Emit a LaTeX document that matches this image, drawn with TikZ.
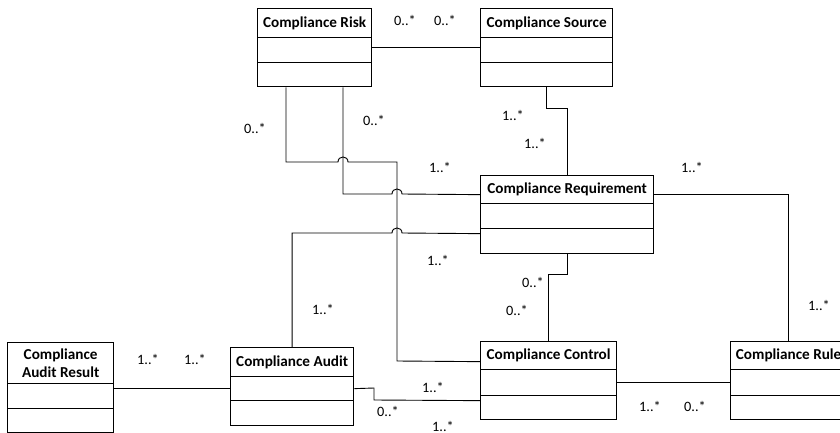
\documentclass[tikz,border=0pt]{standalone}
\usepackage{fontspec}
\setmainfont{Carlito}

% A UML class: header with the name, two empty compartments below.
% #1 name, #2 left x, #3 right x, #4 top y, #5 header bottom, #6 row bottom, #7 box bottom, #8 title
\newcommand\umlclass[8]{%
  \node[hdr, anchor=north west, minimum width={(#3-#2)*1pt}, minimum height={(#5-#4)*1pt}] (#1) at (#2,#4) {#8};
  \node[row, anchor=north west, minimum width={(#3-#2)*1pt}, minimum height={(#6-#5)*1pt}] (#1-1) at (#2,#5) {};
  \node[row, anchor=north west, minimum width={(#3-#2)*1pt}, minimum height={(#7-#6)*1pt}] (#1-2) at (#2,#6) {};
}

\begin{document}
\begin{tikzpicture}[x=1pt,y=-1pt,
  hdr/.style={draw, line width=1.3pt, inner sep=0pt, align=center,
              font=\fontsize{15.2}{18.5}\selectfont\bfseries},
  row/.style={draw, line width=1.3pt, inner sep=0pt},
  conn/.style={line width=0.9pt},
  mult/.style={inner sep=0pt, font=\fontsize{14.3}{16}\selectfont}]

\clip (0,0) rectangle (840,433);
\fill[white] (0,0) rectangle (840,433);

% classes
\umlclass{risk}{257}{371}{8}{37}{62}{86}{Compliance Risk}
\umlclass{source}{480}{612}{8}{37}{62}{86}{Compliance Source}
\umlclass{req}{480}{653}{175}{203}{228}{253}{Compliance Requirement}
\umlclass{control}{480}{616}{341}{369}{395}{419}{Compliance Control}
\umlclass{rule}{730}{846}{341}{369}{395}{419}{Compliance Rule}
\umlclass{audit}{230}{353}{347}{376}{400}{425}{Compliance Audit}
\umlclass{result}{7}{113}{342}{383}{408}{432}{Compliance\\Audit Result}

% associations (small hops where a line passes over another)
\draw[conn] ([yshift=2.5pt]risk-1.east) -- ([yshift=2.5pt]source-1.west);
\draw[conn] ([xshift=29pt]risk-2.south west) -- (286,162) -- (338,162)
  .. controls (338,155.3) and (348,155.3) .. (348,162) -- (397,162) -- (397,361)
  -- ([yshift=-6pt]control.west);
\draw[conn] ([xshift=86pt]risk-2.south west) -- (343,194) -- (392,194)
  .. controls (392,187.3) and (402,187.3) .. (402,194) -- ([yshift=-5pt]req.west);
\draw[conn] (source-2.south) -- ++(0,21) -| (req.north);
\draw[conn] ([yshift=-5pt]req.east) -| (rule.north);
\draw[conn] (req-2.south) -- ++(0,20) -| (control.north);
\draw[conn] ([yshift=7.5pt]req-2.west) -- (402,233)
  .. controls (402,226.3) and (392,226.3) .. (392,233) -| (audit.north);
\draw[conn] (result-1.east |- audit-1.west) -- (audit-1.west);
\draw[conn] (audit-1.east) -- (374,388) -- (374,400) -- ([yshift=7pt]control-2.west);
\draw[conn] (control-1.east) -- (rule-1.west);

% multiplicities
\node[mult] (m1)  at (405,20)  {0..*};
\node[mult] (m2)  at (445,20)  {0..*};
\node[mult] (m3)  at (255,128) {0..*};
\node[mult] (m4)  at (374,120) {0..*};
\node[mult] (m5)  at (513,115) {1..*};
\node[mult] (m6)  at (535,143) {1..*};
\node[mult] (m7)  at (440,167) {1..*};
\node[mult] (m8)  at (692,167) {1..*};
\node[mult] (m9)  at (438,260) {1..*};
\node[mult] (m10) at (533,282) {0..*};
\node[mult] (m11) at (517,310) {0..*};
\node[mult] (m12) at (323,309) {1..*};
\node[mult] (m13) at (819,305) {1..*};
\node[mult] (m14) at (148,359) {1..*};
\node[mult] (m15) at (195,359) {1..*};
\node[mult] (m16) at (433,387) {1..*};
\node[mult] (m17) at (388,411) {0..*};
\node[mult] (m18) at (443,426) {1..*};
\node[mult] (m19) at (650,406) {1..*};
\node[mult] (m20) at (695,406) {0..*};
\end{tikzpicture}
\end{document}
